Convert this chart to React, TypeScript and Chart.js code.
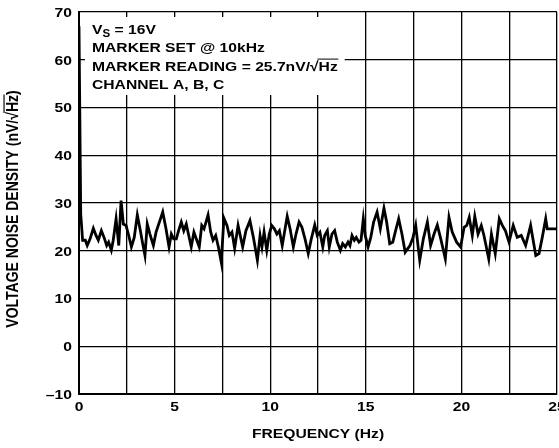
import React, { useEffect, useRef } from 'react';
import { Chart, registerables } from 'chart.js';

Chart.register(...registerables);

// ---- data ----
const FREQ_HZ: number[] = [
  0, 0.09, 0.19, 0.33, 0.43, 0.58, 0.75, 0.89, 1.01, 1.17, 1.31, 1.45, 1.55, 1.69, 1.79, 1.94, 2.08, 2.2, 2.32, 2.46,
  2.6, 2.74, 2.89, 3.05, 3.21, 3.33, 3.45, 3.57, 3.71, 3.89, 4.03, 4.38, 4.55, 4.71, 4.83, 4.95, 5.09, 5.21, 5.35, 5.48,
  5.61, 5.74, 5.87, 6.01, 6.16, 6.29, 6.42, 6.54, 6.75, 6.89, 7.01, 7.15, 7.29, 7.44, 7.58, 7.74, 7.86, 8.0, 8.14, 8.32,
  8.56, 8.73, 8.94, 9.12, 9.33, 9.47, 9.57, 9.68, 9.82, 9.95, 10.08, 10.22, 10.35, 10.48, 10.63, 10.89, 11.04, 11.21, 11.35, 11.51,
  11.66, 11.82, 11.99, 12.15, 12.33, 12.46, 12.6, 12.75, 12.85, 12.99, 13.09, 13.23, 13.37, 13.51, 13.67, 13.79, 13.93, 14.07, 14.17, 14.28,
  14.4, 14.5, 14.64, 14.75, 14.87, 14.97, 15.12, 15.26, 15.41, 15.59, 15.76, 15.95, 16.09, 16.25, 16.41, 16.54, 16.72, 16.89, 17.06, 17.31,
  17.47, 17.61, 17.82, 18.01, 18.22, 18.39, 18.57, 18.74, 18.92, 19.16, 19.35, 19.52, 19.75, 19.96, 20.14, 20.28, 20.41, 20.57, 20.7, 20.87,
  21.04, 21.18, 21.43, 21.57, 21.77, 21.98, 22.14, 22.3, 22.49, 22.71, 22.92, 23.13, 23.36, 23.62, 23.89, 24.06, 24.23, 24.41, 24.49, 24.67,
  25.0,
];
const NOISE_DENSITY: number[] = [
  67, 27.7, 22.2, 22.2, 21.1, 22.5, 24.7, 23.2, 22.2, 24.2, 22.8, 21.1, 21.8, 20.1, 22.2, 26.7, 21.1, 30.5, 25.6, 25.3,
  23.2, 20.8, 22.8, 27.5, 24.2, 21.5, 19.0, 25.6, 23.5, 21.1, 23.9, 28.1, 24.6, 20.8, 23.5, 22.5, 22.5, 24.2, 26.0, 24.2,
  25.6, 23.2, 20.8, 23.9, 22.2, 20.8, 25.3, 24.6, 27.5, 23.9, 22.2, 23.2, 20.8, 17.6, 26.8, 25.3, 23.2, 23.9, 20.5, 25.3,
  20.8, 24.2, 26.3, 22.8, 18.0, 23.2, 20.8, 23.9, 20.1, 23.5, 25.3, 24.6, 23.5, 24.2, 21.1, 27.2, 24.6, 20.8, 23.5, 26.0,
  24.9, 22.5, 19.4, 22.5, 25.4, 23.2, 23.9, 20.8, 23.2, 24.2, 20.8, 23.5, 24.2, 21.8, 20.1, 21.5, 20.8, 21.8, 21.1, 23.2,
  22.2, 22.8, 21.8, 22.2, 26.7, 23.2, 20.8, 22.8, 26.0, 28.1, 24.6, 28.9, 26.0, 21.5, 21.8, 23.9, 26.7, 23.5, 19.7, 21.1,
  22.8, 25.3, 18.0, 22.5, 26.0, 21.1, 23.5, 25.4, 22.5, 18.3, 27.0, 23.9, 21.8, 20.8, 24.9, 25.3, 27.0, 23.2, 27.2, 23.5,
  25.3, 23.2, 18.3, 23.5, 19.4, 26.7, 25.3, 24.2, 21.8, 25.3, 22.8, 23.2, 21.1, 25.3, 19.0, 19.4, 22.8, 26.7, 24.6, 24.6,
  24.6,
];
const X_MIN = 0;
const X_MAX = 25;
const X_GRID_STEP = 2.5;
const X_TICK_LABELS = [0, 5, 10, 15, 20, 25];
const Y_MIN = -10;
const Y_MAX = 70;
const Y_STEP = 10;
const Y_TICK_LABELS = [-10, 0, 10, 20, 30, 40, 50, 60, 70];

const X_TITLE = 'FREQUENCY (Hz)';
type Part = { t: string; sub?: boolean; over?: boolean };
const Y_TITLE: Part[] = [{ t: 'VOLTAGE NOISE DENSITY (nV/√' }, { t: 'Hz', over: true }, { t: ')' }];
const NOTE_LINES: Part[][] = [
  [{ t: 'V' }, { t: 'S', sub: true }, { t: ' = 16V' }],
  [{ t: 'MARKER SET @ 10kHz' }],
  [{ t: 'MARKER READING = 25.7nV/√' }, { t: 'Hz', over: true }],
  [{ t: 'CHANNEL A, B, C' }],
];

const FONT_FAMILY = '"Liberation Sans", Arial, Helvetica, sans-serif';
const FONT_SIZE = 13.5;
const Y_TITLE_SIZE = 14;
const STRETCH = 1.16; // reference text is slightly wide
const fontStr = (size: number) => `bold ${size}px ${FONT_FAMILY}`;

function partsWidth(ctx: CanvasRenderingContext2D, parts: Part[], size: number) {
  let w = 0;
  for (const p of parts) {
    ctx.font = fontStr(p.sub ? Math.round(size * 0.72) : size);
    w += ctx.measureText(p.t).width;
  }
  return w;
}

// draws parts left-aligned from (0, baseline 0) in the current transform
function drawParts(ctx: CanvasRenderingContext2D, parts: Part[], size: number) {
  let cx = 0;
  ctx.textBaseline = 'alphabetic';
  ctx.textAlign = 'left';
  for (const p of parts) {
    const s = p.sub ? Math.round(size * 0.72) : size;
    ctx.font = fontStr(s);
    const w = ctx.measureText(p.t).width;
    ctx.fillText(p.t, cx, p.sub ? size * 0.28 : 0);
    if (p.over) {
      ctx.save();
      ctx.strokeStyle = '#000';
      ctx.lineWidth = 1;
      ctx.beginPath();
      const oy = -size * 0.86;
      ctx.moveTo(cx - 1, oy);
      ctx.lineTo(cx + w + 0.5, oy);
      ctx.stroke();
      ctx.restore();
    }
    cx += w;
  }
}

// horizontally stretched text; align: 'left' | 'center' | 'right'
function drawText(
  ctx: CanvasRenderingContext2D,
  parts: Part[],
  x: number,
  y: number,
  align: 'left' | 'center' | 'right',
  size = FONT_SIZE,
) {
  const w = partsWidth(ctx, parts, size) * STRETCH;
  const x0 = align === 'left' ? x : align === 'center' ? x - w / 2 : x - w;
  ctx.save();
  ctx.translate(x0, y);
  ctx.scale(STRETCH, 1);
  drawParts(ctx, parts, size);
  ctx.restore();
}

const decorPlugin = {
  id: 'decor',
  beforeDatasetsDraw(chart: any) {
    const { ctx, chartArea } = chart;
    let maxW = 0;
    for (const line of NOTE_LINES) maxW = Math.max(maxW, partsWidth(ctx, line, FONT_SIZE) * STRETCH);
    const bx = chartArea.left + 6;
    const by = chartArea.top + 5;
    const bw = maxW + 14;
    const bh = 78;
    ctx.save();
    ctx.fillStyle = '#fff';
    ctx.fillRect(bx, by, bw, bh);
    ctx.fillStyle = '#000';
    NOTE_LINES.forEach((line, i) => {
      drawText(ctx, line, bx + 7, chartArea.top + 21.5 + i * 18.6, 'left');
    });
    ctx.restore();
  },
  afterDraw(chart: any) {
    const { ctx, chartArea, scales } = chart;
    ctx.save();
    ctx.fillStyle = '#000';
    // tick labels
    const capH = FONT_SIZE * 0.716;
    for (const v of Y_TICK_LABELS) {
      const py = scales.y.getPixelForValue(v);
      const label = v < 0 ? '\u2013' + Math.abs(v) : String(v);
      drawText(ctx, [{ t: label }], chartArea.left - 7, py + capH / 2, 'right');
    }
    for (const v of X_TICK_LABELS) {
      const px = scales.x.getPixelForValue(v);
      drawText(ctx, [{ t: String(v) }], px, chartArea.bottom + 7 + capH, 'center');
    }
    // x title
    drawText(ctx, [{ t: X_TITLE }], (chartArea.left + chartArea.right) / 2, chartArea.bottom + 44, 'center');
    // y title (rotated)
    const yw = partsWidth(ctx, Y_TITLE, Y_TITLE_SIZE);
    ctx.translate(18, (chartArea.top + chartArea.bottom) / 2 + 6);
    ctx.rotate(-Math.PI / 2);
    ctx.scale(1, STRETCH);
    ctx.translate(-yw / 2, 0);
    drawParts(ctx, Y_TITLE, Y_TITLE_SIZE);
    ctx.restore();
  },
};

export default function App() {
  const ref = useRef<HTMLCanvasElement | null>(null);
  useEffect(() => {
    if (!ref.current) return;
    const points = FREQ_HZ.map((f, i) => ({ x: f, y: NOISE_DENSITY[i] }));
    const chart = new Chart(ref.current, {
      type: 'line',
      data: {
        datasets: [
          {
            data: points,
            borderColor: '#000',
            borderWidth: 2.8,
            pointRadius: 0,
            tension: 0,
            fill: false,
          },
        ],
      },
      options: {
        animation: false,
        responsive: false,
        devicePixelRatio: 1,
        layout: { padding: { top: 12, right: 2, left: 0, bottom: 0 } },
        plugins: { legend: { display: false }, tooltip: { enabled: false }, title: { display: false } },
        scales: {
          x: {
            type: 'linear',
            min: X_MIN,
            max: X_MAX,
            border: { display: true, color: '#000', width: 2 },
            grid: { color: '#000', lineWidth: 1.3, drawTicks: false },
            ticks: { stepSize: X_GRID_STEP, display: false, autoSkip: false },
            afterFit: (s: any) => {
              s.height = 54;
              s.paddingLeft = 0;
              s.paddingRight = 0;
            },
          },
          y: {
            type: 'linear',
            min: Y_MIN,
            max: Y_MAX,
            border: { display: true, color: '#000', width: 2 },
            grid: { color: '#000', lineWidth: 1.3, drawTicks: false },
            ticks: { stepSize: Y_STEP, display: false },
            afterFit: (s: any) => {
              s.width = 79;
              s.paddingTop = 0;
              s.paddingBottom = 0;
            },
          },
        },
      },
      plugins: [decorPlugin],
    });
    return () => chart.destroy();
  }, []);
  return (
    <div style={{ position: 'absolute', left: 0, top: 0, width: 559, height: 448, background: '#fff' }}>
      <canvas ref={ref} width={559} height={448} style={{ display: 'block' }} />
    </div>
  );
}
